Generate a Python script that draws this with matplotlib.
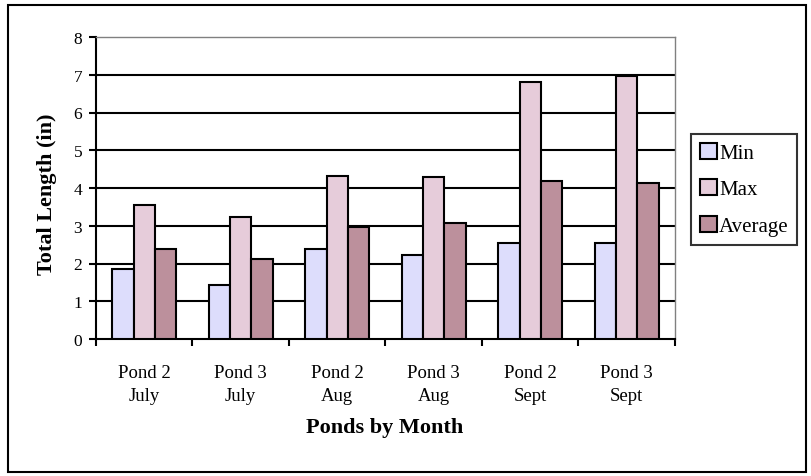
import matplotlib
matplotlib.use("Agg")
import matplotlib.pyplot as plt
import numpy as np
from matplotlib.patches import Rectangle

categories = ["Pond 2\nJuly", "Pond 3\nJuly", "Pond 2\nAug", "Pond 3\nAug", "Pond 2\nSept", "Pond 3\nSept"]
min_vals = [1.85, 1.43, 2.38, 2.22, 2.54, 2.54]
max_vals = [3.54, 3.22, 4.33, 4.28, 6.82, 6.98]
avg_vals = [2.38, 2.11, 2.98, 3.07, 4.18, 4.12]
series_names = ["Min", "Max", "Average"]
colors = ["#DDDDFC", "#E6CCDA", "#BC909C"]

plt.rcParams['font.family'] = ['Liberation Serif', 'DejaVu Serif']

W, H = 812, 477
fig = plt.figure(figsize=(W / 100, H / 100), dpi=100)
ax = fig.add_axes([96 / W, 1 - 340 / H, (675 - 96) / W, (340 - 38) / H])

x = np.arange(len(categories))
w = 1 / 4.5
for i, (vals, name, c) in enumerate(zip([min_vals, max_vals, avg_vals], series_names, colors)):
    ax.bar(x + (i - 1) * w, vals, width=w, color=c, edgecolor="black", linewidth=1.5,
           label=name, zorder=3)

ax.set_xlim(-0.5, len(categories) - 0.5)
ax.set_ylim(0, 8)
ax.set_yticks(range(0, 9))
ax.tick_params(axis='y', labelsize=12.5, length=5, width=1.5, direction='out', pad=5)
ax.set_xticks(np.arange(-0.5, len(categories), 1))
ax.set_xticklabels([])
ax.tick_params(axis='x', length=5, width=1.5, direction='out')
ax.set_xticks(x, minor=True)
ax.set_xticklabels(categories, minor=True, fontsize=13.5, linespacing=1.5)
ax.tick_params(axis='x', which='minor', length=0, pad=18)

for yv in range(1, 8):
    ax.axhline(yv, color="black", linewidth=1.5, zorder=1)

for side in ['top', 'right']:
    ax.spines[side].set_color('#808080')
    ax.spines[side].set_linewidth(1)
for side in ['left', 'bottom']:
    ax.spines[side].set_color('black')
    ax.spines[side].set_linewidth(1.5)

fig.text(47 / W, 1 - 194 / H, "Total Length (in)", fontsize=16, fontweight='bold',
         rotation=90, ha='center', va='center')
fig.text(385 / W, 1 - 428 / H, "Ponds by Month", fontsize=16, fontweight='bold',
         ha='center', va='center')

leg = fig.legend(loc='upper left', bbox_to_anchor=(691 / W, 1 - 135 / H), fontsize=15,
                 frameon=True, fancybox=False, edgecolor='black', handlelength=0.82,
                 handleheight=0.8, handletextpad=0.1, borderpad=0.42, labelspacing=0.78,
                 borderaxespad=0)
leg.get_frame().set_linewidth(1.5)

fig.patches.append(Rectangle((8 / W, 1 - 473 / H), (806 - 8) / W, (473 - 6) / H,
                             transform=fig.transFigure, fill=False, edgecolor='black',
                             linewidth=1.5))

fig.savefig("out.png", dpi=100)
